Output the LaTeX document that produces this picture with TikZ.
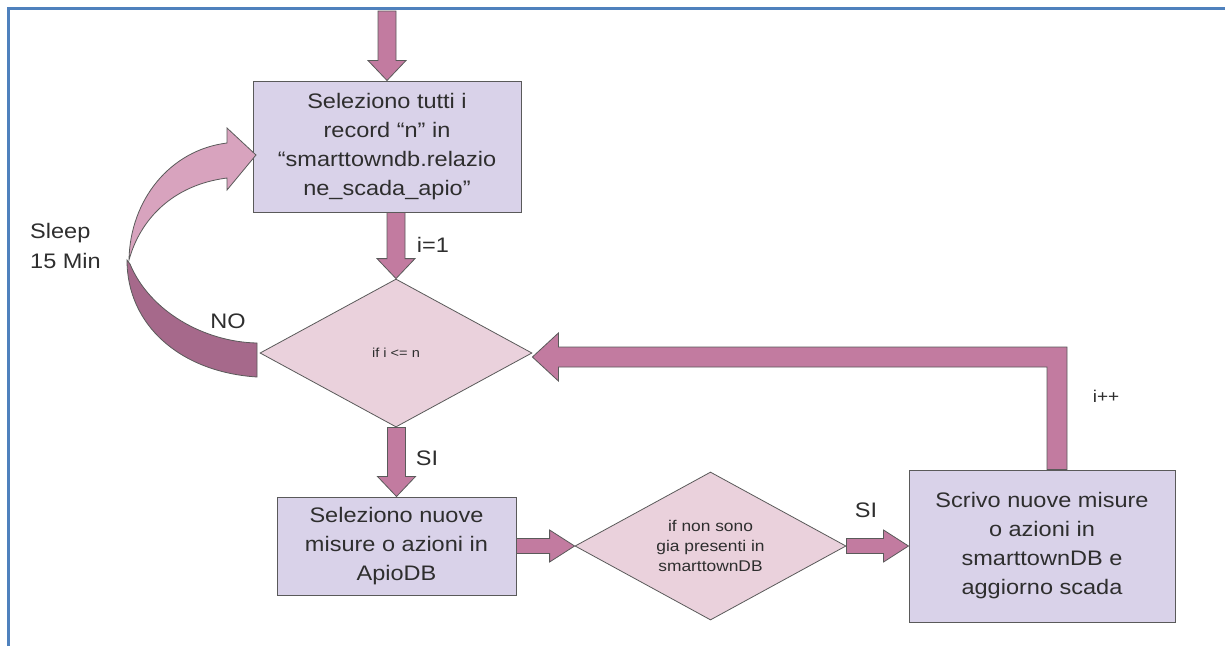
\documentclass[tikz,border=0pt]{standalone}
\usepackage{fontspec}
\setmainfont{Liberation Sans}[FakeStretch=1.12]
\usetikzlibrary{shapes.geometric,calc}
\definecolor{boxfill}{HTML}{D9D2E9}
\definecolor{diafill}{HTML}{EAD1DC}
\definecolor{arrfill}{HTML}{C27BA0}
\definecolor{lineclr}{HTML}{5A5A5A}
\definecolor{curvelight}{HTML}{D8A3BE}
\definecolor{curvedark}{HTML}{A6698B}
\definecolor{frameblue}{HTML}{4F81BD}
\definecolor{txt}{HTML}{2E2E2E}
\tikzset{
  procbox/.style={rectangle, draw=lineclr, fill=boxfill, line width=1pt, inner sep=0pt,
    align=center, font=\fontsize{21}{29}\selectfont, text=txt},
  decision/.style={diamond, draw=lineclr, fill=diafill, line width=0.8pt, inner sep=0pt,
    shape aspect=1.83, align=center, text=txt},
  blockarrow/.style={draw=lineclr, fill=arrfill, line width=0.8pt, line join=miter},
  lbl/.style={font=\fontsize{21}{30}\selectfont, text=txt, inner sep=0pt, align=left}
}
\newcommand\blkdown[2]{%
  \draw[blockarrow] let \p1=(#1), \p2=(#2) in
    (\x2-9pt,\y1) -- (\x2+9pt,\y1) -- (\x2+9pt,\y2+20pt) -- (\x2+19pt,\y2+20pt)
    -- (\p2) -- (\x2-19pt,\y2+20pt) -- (\x2-9pt,\y2+20pt) -- cycle;}
\newcommand\blkright[2]{%
  \draw[blockarrow] let \p1=(#1), \p2=(#2) in
    (\x1,\y2+7.5pt) -- (\x2-25pt,\y2+7.5pt) -- (\x2-25pt,\y2+16pt) -- (\p2)
    -- (\x2-25pt,\y2-16pt) -- (\x2-25pt,\y2-7.5pt) -- (\x1,\y2-7.5pt) -- cycle;}
\begin{document}
\begin{tikzpicture}[x=1pt,y=-1pt]
\useasboundingbox (0,0) rectangle (1225,646);
\fill[white] (0,0) rectangle (1225,646);
\draw[frameblue, line width=3pt] (8,646) -- (8,8) -- (1225,8);

% nodes
\node[procbox, minimum width=268, minimum height=131] (b1) at (387,146.5)
  {Seleziono tutti i\\record “n” in\\“smarttowndb.relazio\\ne\_scada\_apio”};
\node[decision, minimum width=272, minimum height=148, font=\fontsize{13}{15}\selectfont] (d1) at (396,353) {if i <= n};
\node[procbox, minimum width=239, minimum height=98] (b2) at (396.5,546)
  {Seleziono nuove\\misure o azioni in\\ApioDB};
\node[decision, minimum width=271, minimum height=148, font=\fontsize{15.5}{20}\selectfont] (d2) at (710.5,546)
  {if non sono\\gia presenti in\\smarttownDB};
\node[procbox, minimum width=266, minimum height=152] (b3) at (1042,546)
  {Scrivo nuove misure\\o azioni in\\smarttownDB e\\aggiorno scada};
\coordinate (start) at (387,11);

% straight block arrows
\blkdown{start}{b1.north}
\blkdown{b1.south}{d1.north}
\blkdown{d1.south}{b2.north}
\blkright{b2.east}{d2.west}
\blkright{d2.east}{b3.west}

% feedback arrow i++
\draw[blockarrow] let \p1=(b3.north), \p2=(d1.east) in
  (\x1+25pt,\y1) -- (\x1+25pt,\y2+6pt) -- (\x2+26pt,\y2+6pt) -- (\x2+26pt,\y2+20pt)
  -- (\x2,\y2-4pt) -- (\x2+26pt,\y2-28pt) -- (\x2+26pt,\y2-14pt) -- (\x1+5pt,\y2-14pt)
  -- (\x1+5pt,\y1) -- cycle;

% curved arrow (NO -> sleep -> back to b1)
\draw[draw=lineclr, fill=curvedark, line width=0.8pt, line join=miter]
  (127,260) .. controls (127,325) and (180,372) .. (257,377) -- (257,343)
  .. controls (205,342) and (150,312) .. (130,264) -- cycle;
\draw[draw=lineclr, fill=curvelight, line width=0.8pt, line join=miter]
  (227,128) -- (256,155) -- (227,190) -- (227,178)
  .. controls (172,185) and (140,220) .. (129,260)
  .. controls (130,200) and (170,150) .. (227,143) -- cycle;

% labels
\node[lbl, anchor=west] (sleep) at (30,246) {Sleep\\15 Min};
\node[lbl] (no) at (228,321) {NO};
\node[lbl] (i1) at (433,245) {i=1};
\node[lbl] (si1) at (427,458) {SI};
\node[lbl] (si2) at (866,510) {SI};
\node[lbl, font=\fontsize{17}{20}\selectfont] (ipp) at (1106,396) {i++};
\end{tikzpicture}
\end{document}
